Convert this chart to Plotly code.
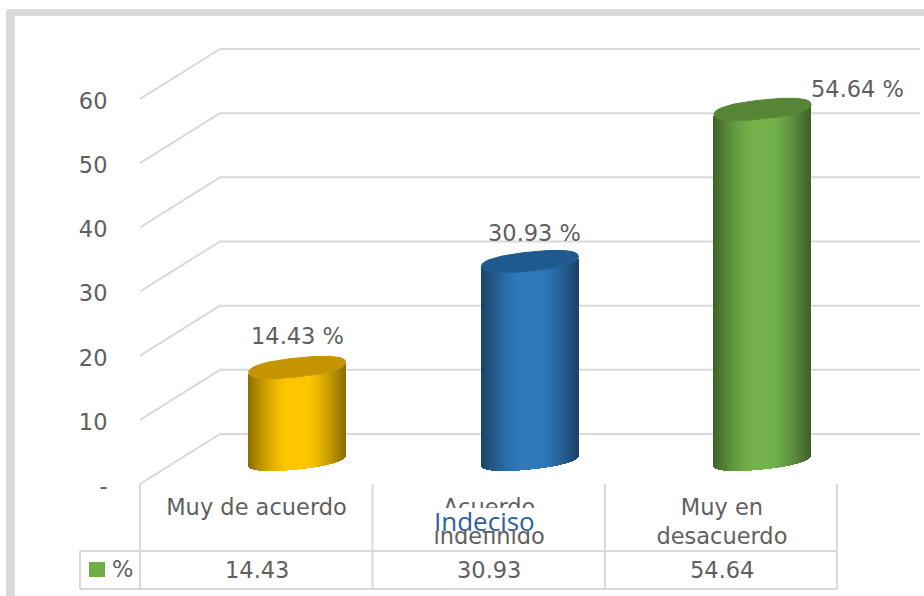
import numpy as np
import plotly.graph_objects as go

# ---- data ----
categories = ["Muy de acuerdo", "Acuerdo<br>indefinido", "Muy en<br>desacuerdo"]
values = [14.43, 30.93, 54.64]
value_labels = ["14.43 %", "30.93 %", "54.64 %"]
table_values = ["14.43", "30.93", "54.64"]
y_ticks = [0, 10, 20, 30, 40, 50, 60]
y_ticktext = ["-", "10", "20", "30", "40", "50", "60"]
series_name = "%"
overlay_text = "Indeciso"

# ---- styles ----
side_colors = ["#ffc600", "#2f79bb", "#73b24a"]
top_colors = ["#c49500", "#1f5a8f", "#568535"]
KEY = "#70ad47"
GRID = "#d9d9d9"
TEXT = "#5f5f5f"
FONT = "DejaVu Sans"
FS = 22.5

W, H = 924, 596
L, T, R, B = 140, 30, 924, 484      # plot area in pixels
PX_PER_UNIT = 6.417
PX_PER_CAT = 232.7
X0 = 256.5                          # pixel of category 0

def X(px):
    return (px - X0) / PX_PER_CAT
def PX(px):
    return (px - L) / (R - L)
def PY(py):
    return (B - py) / (B - T)

DEPTH_V = 50 / PX_PER_UNIT          # depth of back wall in value units
BACK_X = 220
GRID_END = 920
CYL_DX = 40.7 / PX_PER_CAT
CYL_BASE = 24 / PX_PER_UNIT
A = 48.5
EB = 9.5
TILT = 5.0
ROUND = 0.85                        # <1 gives the blunter ellipse ends of the reference

def shade(hex_color, f):
    r, g, b = [int(hex_color[i:i + 2], 16) for i in (1, 3, 5)]
    return "rgb(%d,%d,%d)" % (r * f, g * f, b * f)

fig = go.Figure()

shapes = []
# perspective grid
for v in y_ticks:
    shapes.append(dict(type="line", xref="x", yref="y", layer="below",
                       x0=X(L), y0=v, x1=X(BACK_X), y1=v + DEPTH_V,
                       line=dict(color=GRID, width=2)))
    shapes.append(dict(type="line", xref="x", yref="y", layer="below",
                       x0=X(BACK_X), y0=v + DEPTH_V, x1=X(GRID_END), y1=v + DEPTH_V,
                       line=dict(color=GRID, width=2)))

# data table lines
for x in (140, 372.5, 605, 837):
    shapes.append(dict(type="line", xref="paper", yref="paper", layer="below",
                       x0=PX(x), x1=PX(x), y0=PY(484), y1=PY(589),
                       line=dict(color=GRID, width=2)))
for y in (551, 589):
    shapes.append(dict(type="line", xref="paper", yref="paper", layer="below",
                       x0=PX(80), x1=PX(837), y0=PY(y), y1=PY(y),
                       line=dict(color=GRID, width=2)))
shapes.append(dict(type="line", xref="paper", yref="paper", layer="below",
                   x0=PX(80), x1=PX(80), y0=PY(551), y1=PY(589),
                   line=dict(color=GRID, width=2)))
# legend key
shapes.append(dict(type="rect", xref="paper", yref="paper",
                   x0=PX(89), x1=PX(105), y0=PY(562), y1=PY(577),
                   fillcolor=KEY, line=dict(width=0)))
# outer frame
frame = "M{0},{1} L{0},{2} Q{0},{3} {4},{3} L{5},{3} L{5},{6} L{7},{6} L{7},{1} Z".format(
    PX(6), PY(596), PY(13), PY(9), PX(10), PX(924), PY(16), PX(15))
shapes.append(dict(type="path", xref="paper", yref="paper", path=frame,
                   fillcolor=GRID, line=dict(width=0)))

# cylinders
n = 97
offs = (np.arange(n) + 0.5) / n * 2 - 1
for i, v in enumerate(values):
    cx = i + CYL_DX
    strip_x = cx + offs * A / PX_PER_CAT
    arc = (EB * (1 - np.abs(offs) ** (2 / ROUND)) ** (ROUND / 2) - TILT * offs) / PX_PER_UNIT
    bases = CYL_BASE - arc
    cols = [shade(side_colors[i], 1 - 0.45 * max(0, (abs(o) - 0.2) / 0.8) ** 1.4) for o in offs]
    fig.add_trace(go.Bar(x=strip_x, y=[v] * n, base=bases,
                         width=1.5 / PX_PER_CAT,
                         marker=dict(color=cols, line=dict(width=0)),
                         showlegend=False, hoverinfo="skip"))
    t = np.linspace(0, 2 * np.pi, 120)
    c = np.sign(np.cos(t)) * np.abs(np.cos(t)) ** ROUND
    s = np.sign(np.sin(t)) * np.abs(np.sin(t)) ** ROUND
    ex = cx + A * c / PX_PER_CAT
    ey = v + CYL_BASE + (EB * s + TILT * c) / PX_PER_UNIT
    fig.add_trace(go.Scatter(x=ex, y=ey, mode="lines", fill="toself",
                             fillcolor=top_colors[i], line=dict(color=top_colors[i], width=1),
                             showlegend=False, hoverinfo="skip"))

annotations = []
label_px = [(297, 336), (534, 233), (857, 89)]
for (lx, ly), txt in zip(label_px, value_labels):
    annotations.append(dict(xref="paper", yref="paper", x=PX(lx), y=PY(ly), text=txt,
                            showarrow=False, xanchor="center", yanchor="middle",
                            font=dict(family=FONT, size=FS, color=TEXT)))
for i, txt in enumerate(table_values):
    annotations.append(dict(xref="x", yref="paper", x=i, y=PY(570), text=txt,
                            showarrow=False, xanchor="center", yanchor="middle",
                            font=dict(family=FONT, size=FS, color=TEXT)))
annotations.append(dict(xref="paper", yref="paper", x=PX(122), y=PY(569), text=series_name,
                        showarrow=False, xanchor="center", yanchor="middle",
                        font=dict(family=FONT, size=FS, color=TEXT)))
# white box of the pasted overlay text, then the text itself
annotations.append(dict(xref="paper", yref="paper", x=PX(484.5), y=PY(519.5), text=" ",
                        showarrow=False, xanchor="center", yanchor="middle",
                        width=103, height=23, borderpad=0, borderwidth=0, bgcolor="white",
                        font=dict(family=FONT, size=8, color=TEXT)))
annotations.append(dict(xref="paper", yref="paper", x=PX(484), y=PY(521), text=overlay_text,
                        showarrow=False, xanchor="center", yanchor="middle",
                        font=dict(family="Open Sans", size=26, color="#2f5f9a")))

fig.update_layout(
    width=W, height=H, autosize=False,
    margin=dict(l=L, r=W - R, t=T, b=H - B),
    paper_bgcolor="white", plot_bgcolor="rgba(0,0,0,0)",
    barmode="overlay", bargap=0, showlegend=False,
    shapes=shapes, annotations=annotations,
    font=dict(family=FONT, size=FS, color=TEXT),
    xaxis=dict(range=[X(L), X(R)], tickmode="array", tickvals=[0, 1, 2], ticktext=categories,
               showgrid=False, zeroline=False, showline=False,
               ticks="outside", ticklen=3, tickcolor="rgba(0,0,0,0)",
               tickfont=dict(family=FONT, size=FS, color=TEXT)),
    yaxis=dict(range=[0, (B - T) / PX_PER_UNIT], tickmode="array", tickvals=y_ticks, ticktext=y_ticktext,
               showgrid=False, zeroline=False, showline=False,
               ticks="outside", ticklen=27, tickcolor="rgba(0,0,0,0)", ticklabelshift=2,
               tickfont=dict(family=FONT, size=FS, color=TEXT)),
)

fig.write_html("out.html", config={"displayModeBar": False},
               post_script="document.body.style.margin='0';")
